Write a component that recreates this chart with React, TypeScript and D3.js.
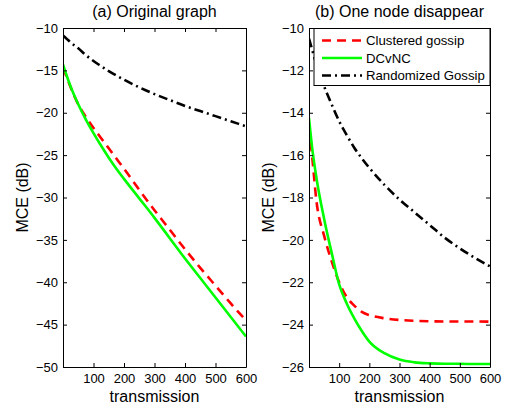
import * as React from "react";
import * as d3 from "d3";

const steps = [0, 10, 25, 50, 75, 100, 125, 150, 175, 200, 250, 300, 350, 400, 450, 500, 550, 600];

// (a) Original graph
const origClustered = [-14.7, -15.6, -17.0, -19.0, -20.5, -21.8, -23.0, -24.2, -25.4, -26.6, -29.1, -31.5, -33.8, -36.1, -38.3, -40.4, -42.5, -44.5];
const origDCvNC = [-14.3, -15.4, -16.9, -19.0, -20.8, -22.4, -23.9, -25.3, -26.6, -27.8, -30.1, -32.4, -34.8, -37.2, -39.5, -41.8, -44.1, -46.4];
const origRandom = [-10.9, -11.2, -11.7, -12.4, -13.2, -13.9, -14.5, -15.1, -15.6, -16.1, -17.0, -17.8, -18.5, -19.2, -19.8, -20.4, -21.0, -21.6];

// (b) One node disappear
const lossClustered = [-14.7, -16.0, -18.2, -19.8, -21.0, -22.0, -22.7, -23.1, -23.4, -23.55, -23.7, -23.78, -23.82, -23.84, -23.85, -23.85, -23.85, -23.86];
const lossDCvNC = [-14.25, -15.6, -17.1, -19.0, -20.6, -22.1, -23.0, -23.7, -24.3, -24.8, -25.35, -25.65, -25.78, -25.83, -25.85, -25.85, -25.86, -25.86];
const lossRandom = [-10.5, -11.0, -11.75, -12.75, -13.6, -14.4, -15.05, -15.65, -16.15, -16.6, -17.4, -18.1, -18.7, -19.3, -19.9, -20.4, -20.85, -21.25];

const xTicks = [100, 200, 300, 400, 500, 600];
const origYTicks = [-50, -45, -40, -35, -30, -25, -20, -15, -10];
const lossYTicks = [-26, -24, -22, -20, -18, -16, -14, -12, -10];

const seriesNames = ["Clustered gossip", "DCvNC", "Randomized Gossip"];
const seriesStyle = [
  { color: "#ff0000", dash: "9,6" },
  { color: "#00ff00", dash: null },
  { color: "#000000", dash: "9,4,2,4" },
];

const font = "'Liberation Sans', Arial, sans-serif";

function drawPanel(svg, opts) {
  const { left, right, top, bottom, yDomain, yTicks, series, title, legend } = opts;

  const x = d3.scaleLinear().domain([0, 600]).range([left, right]);
  const y = d3.scaleLinear().domain(yDomain).range([bottom, top]);

  const g = svg.append("g");

  g.append("rect")
    .attr("x", left).attr("y", top)
    .attr("width", right - left).attr("height", bottom - top)
    .attr("fill", "#fff");

  const clipId = "clip-" + Math.round(left);
  g.append("clipPath").attr("id", clipId)
    .append("rect")
    .attr("x", left).attr("y", top)
    .attr("width", right - left).attr("height", bottom - top);

  const line = d3.line()
    .x((d) => x(d[0]))
    .y((d) => y(d[1]))
    .curve(d3.curveMonotoneX);

  series.forEach((vals, i) => {
    const st = seriesStyle[i];
    g.append("path")
      .datum(steps.map((s, k) => [s, vals[k]]))
      .attr("clip-path", `url(#${clipId})`)
      .attr("d", line)
      .attr("fill", "none")
      .attr("stroke", st.color)
      .attr("stroke-width", 2.6)
      .attr("stroke-dasharray", st.dash);
  });

  // axes, ticks pointing inwards on all four sides
  const styleAxis = (sel) => {
    sel.selectAll("path, line").attr("stroke", "#000").attr("stroke-width", 1);
    sel.selectAll("text").attr("font-size", 13).attr("font-family", font).attr("fill", "#000");
  };

  g.append("g")
    .attr("transform", `translate(0,${bottom})`)
    .call(d3.axisBottom(x).tickValues(xTicks).tickSizeInner(-4).tickSizeOuter(0).tickPadding(7).tickFormat(d3.format("d")))
    .call(styleAxis);
  g.append("g")
    .attr("transform", `translate(0,${top})`)
    .call(d3.axisTop(x).tickValues(xTicks).tickSizeInner(-4).tickSizeOuter(0).tickFormat(() => ""))
    .call(styleAxis);
  g.append("g")
    .attr("transform", `translate(${left},0)`)
    .call(d3.axisLeft(y).tickValues(yTicks).tickSizeInner(-4).tickSizeOuter(0).tickPadding(5).tickFormat(d3.format("d")))
    .call(styleAxis);
  g.append("g")
    .attr("transform", `translate(${right},0)`)
    .call(d3.axisRight(y).tickValues(yTicks).tickSizeInner(-4).tickSizeOuter(0).tickFormat(() => ""))
    .call(styleAxis);

  g.append("text")
    .text(title)
    .attr("x", (left + right) / 2).attr("y", 17)
    .attr("text-anchor", "middle")
    .attr("font-family", font).attr("font-size", 16);

  g.append("text")
    .text("transmission")
    .attr("x", (left + right) / 2).attr("y", 402)
    .attr("text-anchor", "middle")
    .attr("font-family", font).attr("font-size", 16);

  g.append("text")
    .text("MCE (dB)")
    .attr("transform", `translate(${left - 35},${(top + bottom) / 2}) rotate(-90)`)
    .attr("text-anchor", "middle")
    .attr("font-family", font).attr("font-size", 16);

  if (legend) {
    const lx = right - 176;
    const lg = g.append("g");
    lg.append("rect")
      .attr("x", lx).attr("y", top + 0.5)
      .attr("width", 176).attr("height", 57)
      .attr("fill", "#fff").attr("stroke", "#000").attr("stroke-width", 1);
    seriesNames.forEach((name, i) => {
      const ry = top + 12.5 + i * 17.5;
      lg.append("line")
        .attr("x1", lx + 8).attr("x2", lx + 48)
        .attr("y1", ry).attr("y2", ry)
        .attr("stroke", seriesStyle[i].color)
        .attr("stroke-width", 2.6)
        .attr("stroke-dasharray", seriesStyle[i].dash);
      lg.append("text")
        .text(name)
        .attr("x", lx + 52).attr("y", ry + 4.5)
        .attr("font-family", font).attr("font-size", 13.2);
    });
  }
}

function drawChart(svgRef) {
  const svg = d3.select(svgRef.current);
  svg.selectAll("*").remove();

  drawPanel(svg, {
    left: 63, right: 246, top: 28, bottom: 367,
    yDomain: [-50, -10], yTicks: origYTicks,
    series: [origClustered, origDCvNC, origRandom],
    title: "(a) Original graph", legend: false,
  });

  drawPanel(svg, {
    left: 309, right: 490, top: 28, bottom: 367,
    yDomain: [-26, -10], yTicks: lossYTicks,
    series: [lossClustered, lossDCvNC, lossRandom],
    title: "(b) One node disappear", legend: true,
  });
}

const App = () => {
  const svgRef = React.useRef(null);

  React.useEffect(() => {
    drawChart(svgRef);
  }, [svgRef]);

  return (
    <svg
      ref={svgRef}
      width={513}
      height={408}
      style={{ position: "absolute", left: 0, top: 0, background: "#fff" }}
    />
  );
};

export default App;
